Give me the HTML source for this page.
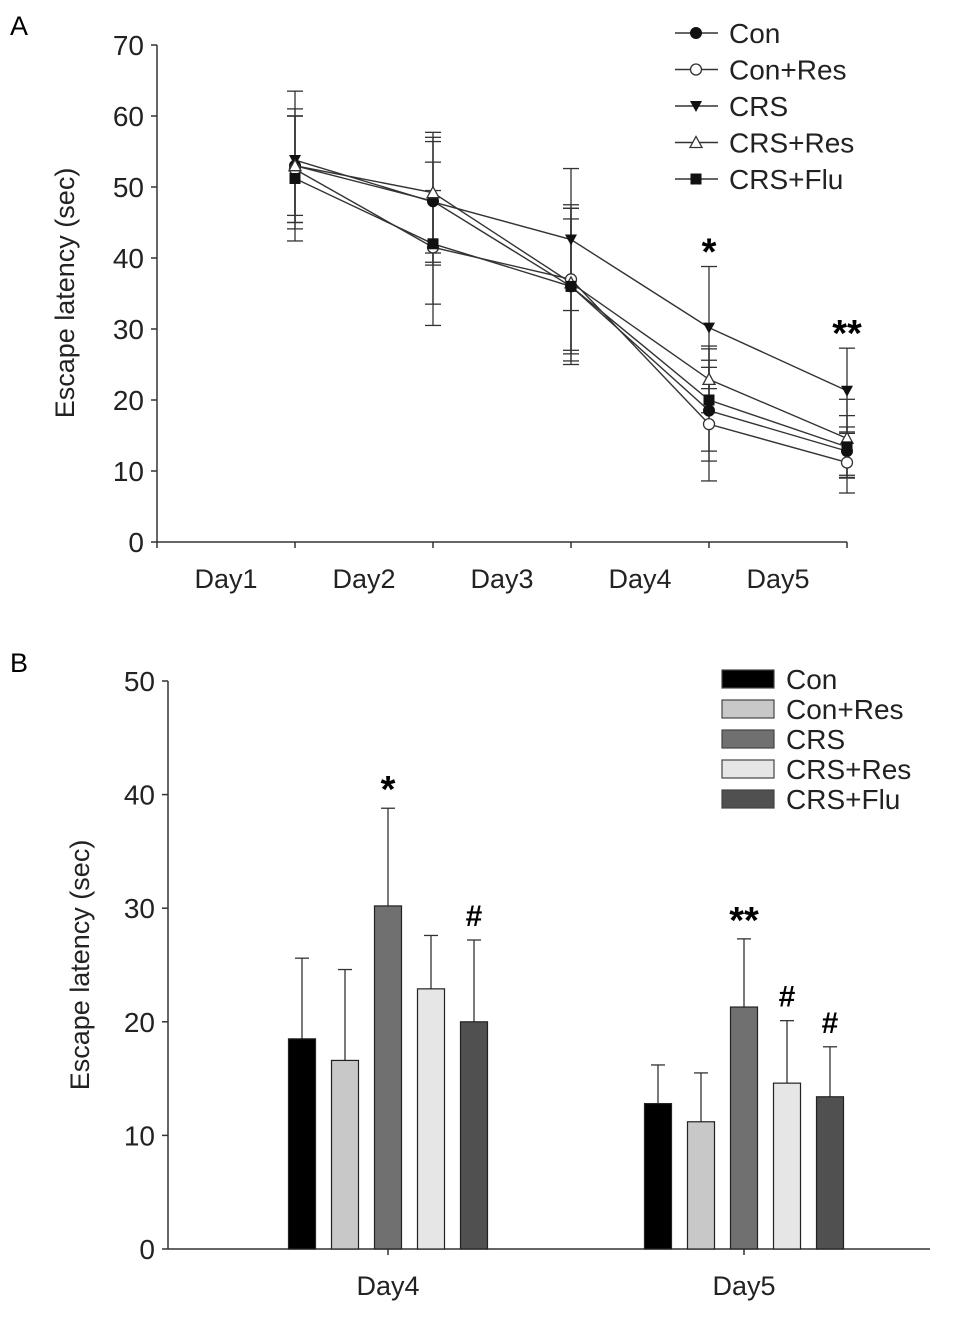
<!DOCTYPE html>
<html><head><meta charset="utf-8"><style>
body{margin:0;background:#fff;}
svg{display:block;font-family:"Liberation Sans",Arial,sans-serif;}
</style></head><body>
<svg id="chart" width="971" height="1317" viewBox="0 0 971 1317" xmlns="http://www.w3.org/2000/svg">
<text x="10" y="35" font-size="27">A</text>
<text x="10" y="672" font-size="27">B</text>
<g id="pa"></g>
<g id="pb"></g>
</svg>
<script>
const seriesNames = ["Con","Con+Res","CRS","CRS+Res","CRS+Flu"];
const days = ["Day1","Day2","Day3","Day4","Day5"];
const conVals = [53, 48, 36, 18.5, 12.8];
const conResVals = [52.5, 41.5, 37, 16.6, 11.2];
const crsVals = [53.8, 47.9, 42.6, 30.2, 21.3];
const crsResVals = [53, 49.2, 36.5, 22.9, 14.6];
const crsFluVals = [51.2, 42, 36, 20, 13.4];
const conSd = [8, 9, 9.5, 7.1, 3.4];
const conResSd = [7.5, 8, 10, 8, 4.3];
const crsSd = [9.7, 8.5, 10, 8.6, 6];
const crsResSd = [7, 8.5, 11, 4.7, 5.5];
const crsFluSd = [8.8, 11.5, 11, 7.2, 4.4];
const yTicksA = [0,10,20,30,40,50,60,70];
const barDays = ["Day4","Day5"];
const barDayIdx = [3,4];
const yTicksB = [0,10,20,30,40,50];
const sigA = ["","","","*","**"];
const sigB4 = ["","","*","","#"];
const sigB5 = ["","","**","#","#"];

const NS="http://www.w3.org/2000/svg";
function mk(tag,attrs,parent,txt){const e=document.createElementNS(NS,tag);for(const k in attrs)e.setAttribute(k,attrs[k]);if(txt!==undefined)e.textContent=txt;parent.appendChild(e);return e;}
const allVals=[conVals,conResVals,crsVals,crsResVals,crsFluVals];
const allSd=[conSd,conResSd,crsSd,crsResSd,crsFluSd];
const markers=["circleF","circleO","triDown","triUpO","square"];

// Panel A
const pa=document.getElementById('pa');
const ax0=157, ax1=847, ay0=542, ay1=45;
const yA=v=>ay0-(v/70)*(ay0-ay1);
const tickStep=(ax1-ax0)/5;
const xA=i=>ax0+tickStep*(i+1);
let e;
e=mk('line',{x1:ax0,y1:ay1,x2:ax0,y2:ay0,stroke:'#333','stroke-width':1.5},pa);

e=mk('line',{x1:ax0,y1:ay0,x2:ax1,y2:ay0,stroke:'#333','stroke-width':1.5},pa);

yTicksA.forEach(t=>{mk('line',{x1:ax0-6,y1:yA(t),x2:ax0,y2:yA(t),stroke:'#333','stroke-width':1.5},pa);
 e=mk('text',{x:ax0-13,y:yA(t)+10,'font-size':28,'text-anchor':'end',fill:'#222'},pa,t);
 });
for(let i=0;i<=5;i++)mk('line',{x1:ax0+tickStep*i,y1:ay0,x2:ax0+tickStep*i,y2:ay0+6,stroke:'#333','stroke-width':1.5},pa);
days.forEach((d,i)=>{e=mk('text',{x:ax0+tickStep*(i+0.5),y:ay0+46,'font-size':27,'text-anchor':'middle',fill:'#222'},pa,d);
 });
e=mk('text',{x:0,y:0,'font-size':27,'text-anchor':'middle',fill:'#222',transform:'translate(74,293) rotate(-90)'},pa,'Escape latency (sec)');

function marker(type,x,y,parent){
 let m;
 if(type==='circleF')m=mk('circle',{cx:x,cy:y,r:5.5,fill:'#111',stroke:'#111'},parent);
 else if(type==='circleO')m=mk('circle',{cx:x,cy:y,r:5.5,fill:'#fff',stroke:'#333','stroke-width':1.3},parent);
 else if(type==='triDown')m=mk('polygon',{points:`${x-6},${y-5} ${x+6},${y-5} ${x},${y+6}`,fill:'#111'},parent);
 else if(type==='triUpO')m=mk('polygon',{points:`${x-6},${y+5} ${x+6},${y+5} ${x},${y-6}`,fill:'#fff',stroke:'#333','stroke-width':1.3},parent);
 else m=mk('rect',{x:x-5.5,y:y-5.5,width:11,height:11,fill:'#111'},parent);
 return m;
}
allVals.forEach((vals,s)=>{
 vals.forEach((v,i)=>{const x=xA(i),sd=allSd[s][i];
  e=mk('line',{x1:x,y1:yA(v-sd),x2:x,y2:yA(v+sd),stroke:'#333','stroke-width':1.3},pa);
  
  [v-sd,v+sd].forEach(w=>mk('line',{x1:x-8,y1:yA(w),x2:x+8,y2:yA(w),stroke:'#333','stroke-width':1.3},pa));});
});
allVals.forEach((vals,s)=>{
 e=mk('polyline',{points:vals.map((v,i)=>xA(i)+','+yA(v)).join(' '),fill:'none',stroke:'#333','stroke-width':1.4},pa);
 
});
allVals.forEach((vals,s)=>{vals.forEach((v,i)=>{const m=marker(markers[s],xA(i),yA(v),pa);
 });});
sigA.forEach((t,i)=>{if(t){const top=Math.max(...allVals.map((v,s)=>v[i]+allSd[s][i]));
 e=mk('text',{x:xA(i),y:yA(top)-2,'font-size':38,'font-weight':'bold','text-anchor':'middle'},pa,t);
 }});
seriesNames.forEach((n,s)=>{const y=33+s*36.5;
 const g=mk('g',{},pa);
 mk('line',{x1:675,y1:y,x2:718,y2:y,stroke:'#333','stroke-width':1.4},g);
 marker(markers[s],696,y,g);
 mk('text',{x:729,y:y+10,'font-size':28,fill:'#222'},g,n);});

// Panel B
const pb=document.getElementById('pb');
const bx0=168,bx1=930,by0=1249,by1=681;
const yB=v=>by0-(v/50)*(by0-by1);
const groupCenters=[388,744];
const barW=27,barGap=43;
const fills=["#000","#c8c8c8","#707070","#e6e6e6","#505050"];
e=mk('line',{x1:bx0,y1:by1,x2:bx0,y2:by0,stroke:'#333','stroke-width':1.5},pb);

e=mk('line',{x1:bx0,y1:by0,x2:bx1,y2:by0,stroke:'#333','stroke-width':1.5},pb);

yTicksB.forEach(t=>{mk('line',{x1:bx0-6,y1:yB(t),x2:bx0,y2:yB(t),stroke:'#333','stroke-width':1.5},pb);
 e=mk('text',{x:bx0-13,y:yB(t)+10,'font-size':28,'text-anchor':'end',fill:'#222'},pb,t);
 });
barDays.forEach((d,g)=>{mk('line',{x1:groupCenters[g],y1:by0,x2:groupCenters[g],y2:by0+6,stroke:'#333','stroke-width':1.5},pb);
 e=mk('text',{x:groupCenters[g],y:by0+46,'font-size':27,'text-anchor':'middle',fill:'#222'},pb,d);
 });
e=mk('text',{x:0,y:0,'font-size':27,'text-anchor':'middle',fill:'#222',transform:'translate(89,965) rotate(-90)'},pb,'Escape latency (sec)');

const sigB=[sigB4,sigB5];
barDayIdx.forEach((di,g)=>{allVals.forEach((vals,s)=>{
 const v=vals[di],sd=allSd[s][di],cx=groupCenters[g]+(s-2)*barGap;
 e=mk('line',{x1:cx,y1:yB(v),x2:cx,y2:yB(v+sd),stroke:'#333','stroke-width':1.3},pb);
 
 mk('line',{x1:cx-7,y1:yB(v+sd),x2:cx+7,y2:yB(v+sd),stroke:'#333','stroke-width':1.3},pb);
 e=mk('rect',{x:cx-barW/2,y:yB(v),width:barW,height:by0-yB(v),fill:fills[s],stroke:'#222','stroke-width':1.2},pb);
 
 if(sigB[g][s]){const star=sigB[g][s].indexOf('*')>=0;
  e=mk('text',{x:cx,y:yB(v+sd)-(star?6:14),'font-size':star?38:30,'font-weight':'bold','text-anchor':'middle'},pb,sigB[g][s]);
  }
});});
seriesNames.forEach((n,s)=>{const y=679+s*30;
 const g=mk('g',{},pb);
 mk('rect',{x:722,y:y-9,width:52,height:18,fill:fills[s],stroke:'#444','stroke-width':1.2},g);
 mk('text',{x:786,y:y+10,'font-size':28,fill:'#222'},g,n);});
</script>
</body></html>
